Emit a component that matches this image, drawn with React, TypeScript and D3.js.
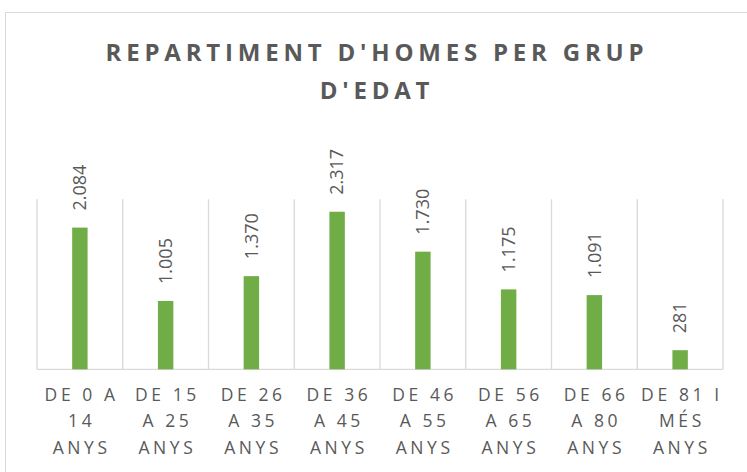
import React from "react";
import * as d3 from "d3";

const categories: string[][] = [
  ["DE 0 A", "14", "ANYS"],
  ["DE 15", "A 25", "ANYS"],
  ["DE 26", "A 35", "ANYS"],
  ["DE 36", "A 45", "ANYS"],
  ["DE 46", "A 55", "ANYS"],
  ["DE 56", "A 65", "ANYS"],
  ["DE 66", "A 80", "ANYS"],
  ["DE 81 I", "MÉS", "ANYS"],
];
const values: number[] = [2084, 1005, 1370, 2317, 1730, 1175, 1091, 281];
const titleLines: string[] = ["REPARTIMENT D'HOMES PER GRUP", "D'EDAT"];

const W = 747;
const H = 472;
const plot = { left: 37, right: 723, top: 199.3, bottom: 369.3 };
const font = "'Open Sans', 'DejaVu Sans', sans-serif";
const textColor = "#595959";
const gridColor = "#d9d9d9";
const barColor = "#70ad47";

const locale = d3.formatLocale({ thousands: ".", grouping: [3], decimal: ",", currency: ["", ""] });
const fmt = locale.format(",d");

export default function App() {
  const idx = categories.map((_, i) => String(i));
  const x = d3.scaleBand<string>().domain(idx).range([plot.left, plot.right]).paddingInner(0).paddingOuter(0);
  const y = d3.scaleLinear().domain([0, 2500]).range([plot.bottom, plot.top]);
  const bw = x.bandwidth() * 0.18;
  const gridXs = idx.map((k) => x(k) as number).concat([plot.right]);

  return (
    <svg width={W} height={H} style={{ position: "absolute", left: 0, top: 0, background: "#fff" }}>
      <rect x={5.5} y={12.5} width={780} height={500} fill="#fff" stroke={gridColor} strokeWidth={1} />
      {titleLines.map((t, i) => (
        <text
          key={i}
          x={377}
          y={61 + i * 37.5}
          textAnchor="middle"
          fontFamily={font}
          fontWeight={700}
          fontSize={24}
          letterSpacing={4.8}
          fill={textColor}
        >
          {t}
        </text>
      ))}
      {gridXs.map((gx, i) => (
        <line key={i} x1={gx} x2={gx} y1={plot.top} y2={plot.bottom} stroke={gridColor} strokeWidth={1.3} />
      ))}
      <line x1={plot.left} x2={plot.right} y1={plot.bottom} y2={plot.bottom} stroke={gridColor} strokeWidth={1.3} />
      {values.map((v, i) => {
        const cx = (x(String(i)) as number) + x.bandwidth() / 2;
        const top = y(v);
        return (
          <g key={i}>
            <rect x={cx - bw / 2} y={top} width={bw} height={plot.bottom - top} fill={barColor} />
            <text
              transform={`translate(${cx},${top - 17}) rotate(-90)`}
              dy="0.35em"
              textAnchor="start"
              fontFamily={font}
              fontSize={18}
              fill={textColor}
            >
              {fmt(v)}
            </text>
          </g>
        );
      })}
      {categories.map((lines, i) => {
        const cx = (x(String(i)) as number) + x.bandwidth() / 2;
        return (
          <text key={i} textAnchor="middle" fontFamily={font} fontSize={17.5} letterSpacing={3.6} fill={textColor}>
            {lines.map((l, j) => (
              <tspan key={j} x={cx + 1.8} y={401 + j * 26.3}>
                {l}
              </tspan>
            ))}
          </text>
        );
      })}
    </svg>
  );
}
